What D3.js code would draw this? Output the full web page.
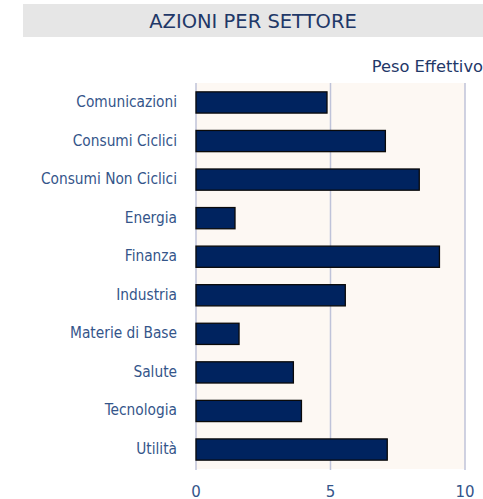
<!DOCTYPE html>
<html>
<head>
<meta charset="utf-8">
<script src="https://cdn.jsdelivr.net/npm/d3@7"></script>
<style>
  html, body { margin: 0; padding: 0; background: #fff; }
  svg { display: block; }
</style>
</head>
<body>
<svg id="chart" width="483" height="499"></svg>
<script>
const categories = ['Comunicazioni', 'Consumi Ciclici', 'Consumi Non Ciclici', 'Energia', 'Finanza',
    'Industria', 'Materie di Base', 'Salute', 'Tecnologia', 'Utilità'];
const pesoEffettivo = [4.87, 7.04, 8.3, 1.45, 9.05, 5.55, 1.6, 3.62, 3.92, 7.11];
const tickValues = [0, 5, 10];

const svg = d3.select('#chart');
const width = 483;

const plotLeft = 196;
const plotRight = 465;
const plotTop = 83;
const plotBottom = 469;

// title banner
svg.append('rect')
    .attr('x', 23)
    .attr('y', 4)
    .attr('width', width - 23)
    .attr('height', 33)
    .attr('fill', '#e6e6e6');

svg.append('text')
    .text('AZIONI PER SETTORE')
    .attr('x', 253)
    .attr('y', 22.5)
    .attr('text-anchor', 'middle')
    .attr('dominant-baseline', 'middle')
    .attr('font-family', '"DejaVu Sans", sans-serif')
    .attr('font-size', '19.5px')
    .attr('fill', '#1f3868');

svg.append('text')
    .text('Peso Effettivo')
    .attr('x', 483)
    .attr('y', 67)
    .attr('text-anchor', 'end')
    .attr('dominant-baseline', 'middle')
    .attr('font-family', '"DejaVu Sans", sans-serif')
    .attr('font-size', '16.3px')
    .attr('fill', '#1f3868');

const x = d3.scaleLinear().domain([0, 10]).range([plotLeft, plotRight]);
const y = d3.scaleBand().domain(categories).range([plotTop, plotBottom]).paddingInner(0.45).paddingOuter(0.23);

// plot background
svg.append('rect')
    .attr('x', plotLeft)
    .attr('y', plotTop)
    .attr('width', plotRight - plotLeft)
    .attr('height', plotBottom - plotTop)
    .attr('fill', '#fdf8f3');

// gridlines
svg.selectAll('line.grid')
    .data(tickValues)
    .enter()
    .append('line')
    .attr('class', 'grid')
    .attr('x1', d => x(d))
    .attr('x2', d => x(d))
    .attr('y1', plotTop)
    .attr('y2', plotBottom + 1)
    .attr('stroke', '#bfc3d9')
    .attr('stroke-width', 1.5);

// bars
svg.selectAll('rect.bar')
    .data(pesoEffettivo)
    .enter()
    .append('rect')
    .attr('class', 'bar')
    .attr('x', x(0))
    .attr('y', (d, i) => y(categories[i]))
    .attr('width', d => x(d) - x(0))
    .attr('height', y.bandwidth())
    .attr('fill', '#00235f')
    .attr('stroke', '#0a0a0a')
    .attr('stroke-width', 1.3);

// category labels
svg.selectAll('text.cat')
    .data(categories)
    .enter()
    .append('text')
    .attr('class', 'cat')
    .text(d => d)
    .attr('x', 177)
    .attr('y', d => y(d) + y.bandwidth() / 2)
    .attr('text-anchor', 'end')
    .attr('dominant-baseline', 'middle')
    .attr('font-family', '"DejaVu Sans Condensed", "DejaVu Sans", sans-serif')
    .attr('font-stretch', 'condensed')
    .attr('font-size', '15.3px')
    .attr('fill', '#34558a');

// x tick labels
svg.selectAll('text.tick')
    .data(tickValues)
    .enter()
    .append('text')
    .attr('class', 'tick')
    .text(d => d)
    .attr('x', d => x(d))
    .attr('y', 492)
    .attr('text-anchor', 'middle')
    .attr('dominant-baseline', 'middle')
    .attr('font-family', '"DejaVu Sans", sans-serif')
    .attr('font-size', '15px')
    .attr('fill', '#34558a');
</script>
</body>
</html>
